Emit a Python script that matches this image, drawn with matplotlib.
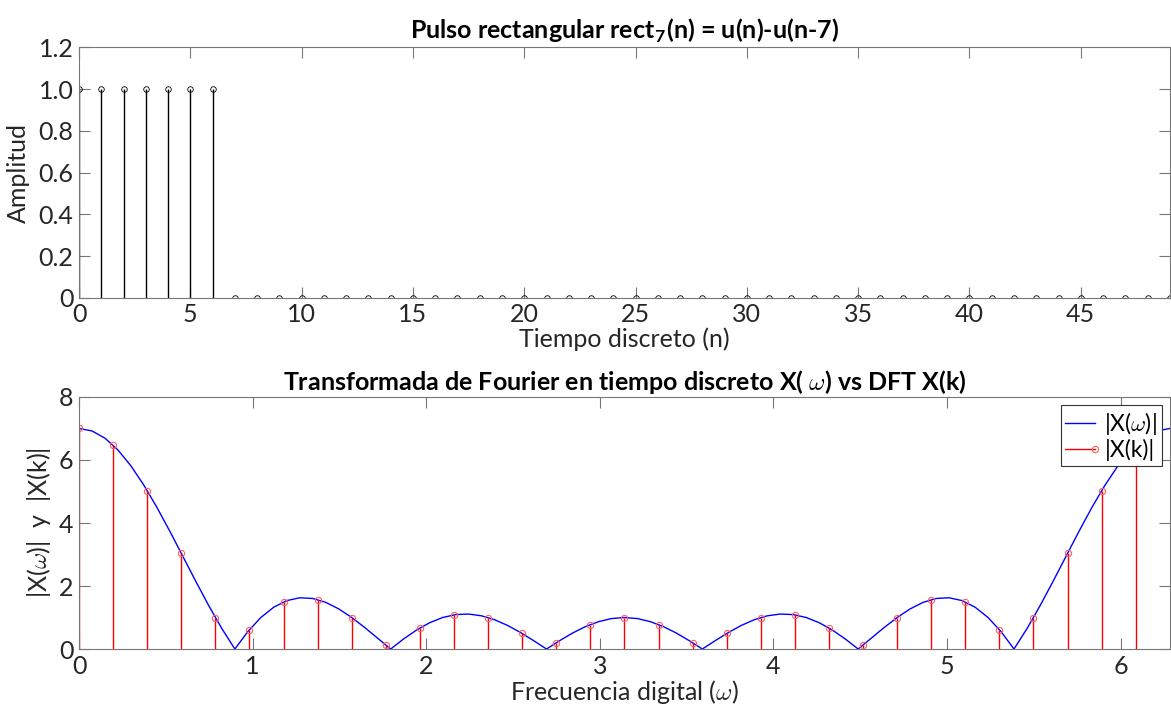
import matplotlib

matplotlib.use("Agg")
import matplotlib.pyplot as plt
import numpy as np
from matplotlib.legend_handler import HandlerBase
from matplotlib.lines import Line2D

# top panel: rect_7(n) for n = 0..49
n = np.arange(50)
amplitude = [1, 1, 1, 1, 1, 1, 1, 0, 0, 0,
             0, 0, 0, 0, 0, 0, 0, 0, 0, 0,
             0, 0, 0, 0, 0, 0, 0, 0, 0, 0,
             0, 0, 0, 0, 0, 0, 0, 0, 0, 0,
             0, 0, 0, 0, 0, 0, 0, 0, 0, 0]

# bottom panel: |X(w)| read on a grid of 85 frequencies over [0, 2*pi]
w = np.linspace(0, 2 * np.pi, 85)
dtft_mag = [7.000, 6.922, 6.691, 6.316, 5.811, 5.196, 4.494, 3.732, 2.938, 2.141,
            1.369, 0.647, 0.000, 0.554, 1.000, 1.329, 1.537, 1.627, 1.604, 1.481,
            1.273, 1.000, 0.682, 0.341, 0.000, 0.322, 0.605, 0.835, 1.000, 1.093,
            1.110, 1.054, 0.930, 0.749, 0.523, 0.268, 0.000, 0.263, 0.506, 0.712,
            0.868, 0.967, 1.000, 0.967, 0.868, 0.712, 0.506, 0.263, 0.000, 0.268,
            0.523, 0.749, 0.930, 1.054, 1.110, 1.093, 1.000, 0.835, 0.605, 0.322,
            0.000, 0.341, 0.682, 1.000, 1.273, 1.481, 1.604, 1.627, 1.537, 1.329,
            1.000, 0.554, 0.000, 0.647, 1.369, 2.141, 2.938, 3.732, 4.494, 5.196,
            5.811, 6.316, 6.691, 6.922, 7.000]

# DFT with 32 bins
wk = np.arange(32) * 2 * np.pi / 32
dft_mag = [7.000, 6.472, 5.027, 3.038, 1.000, 0.616, 1.497, 1.569,
           1.000, 0.127, 0.668, 1.085, 1.000, 0.493, 0.199, 0.777,
           1.000, 0.777, 0.199, 0.493, 1.000, 1.085, 0.668, 0.127,
           1.000, 1.569, 1.497, 0.616, 1.000, 3.038, 5.027, 6.472]

top_yticks = [0, 0.2, 0.4, 0.6, 0.8, 1.0, 1.2]
top_ylabels = ["0", "0.2", "0.4", "0.6", "0.8", "1.0", "1.2"]

plt.rcParams["font.family"] = ["Lato", "DejaVu Sans"]
plt.rcParams["mathtext.fontset"] = "custom"
plt.rcParams["mathtext.rm"] = "Lato"
plt.rcParams["mathtext.it"] = "cmmi10"
plt.rcParams["mathtext.bf"] = "Lato:bold"
FS = 18
TXT = "#262626"
SPINE = "#777777"


class StemKey(HandlerBase):
    """legend key: red line with an open circle at its right end"""

    def create_artists(self, legend, orig, xd, yd, width, height, fontsize, trans):
        y = height / 2 - yd
        ln = Line2D([-xd, width - xd], [y, y], color="red", lw=1.0)
        mk = Line2D([width - xd], [y], marker="o", ms=4.5, mfc="none",
                    mec="#ff6060", mew=0.8, ls="none")
        ln.set_transform(trans)
        mk.set_transform(trans)
        return [ln, mk]


def style(ax):
    for sp in ax.spines.values():
        sp.set_color(SPINE)
        sp.set_linewidth(0.8)
    ax.tick_params(direction="in", length=8, width=0.8, color=SPINE,
                   labelcolor=TXT, labelsize=FS, top=True, right=True, pad=4)


fig = plt.figure(figsize=(11.71, 7.06), dpi=100)

ax1 = fig.add_axes([0.0675, 0.578, 0.9315, 0.355])
ml, sl, bl = ax1.stem(n, amplitude, linefmt="k-", markerfmt="ko", basefmt=" ")
plt.setp(sl, linewidth=1.0, color="black")
plt.setp(ml, markersize=4, markerfacecolor="none", markeredgecolor="black",
         markeredgewidth=0.6)
ax1.set_xlim(0, 49)
ax1.set_ylim(0, 1.2)
ax1.set_xticks(np.arange(0, 50, 5))
ax1.set_yticks(top_yticks)
ax1.set_yticklabels(top_ylabels)
style(ax1)
ax1.set_title(r"Pulso rectangular rect$_\mathbf{7}$(n) = u(n)-u(n-7)",
              fontsize=FS, fontweight="bold", color="black", pad=6)
ax1.set_xlabel("Tiempo discreto (n)", fontsize=FS, color=TXT, labelpad=1)
ax1.set_ylabel("Amplitud", fontsize=FS, color=TXT, labelpad=6)

ax2 = fig.add_axes([0.0675, 0.0807, 0.9315, 0.357])
line, = ax2.plot(w, dtft_mag, color="blue", lw=1.0, label=r"|X($\omega$)|")
ml2, sl2, bl2 = ax2.stem(wk, dft_mag, linefmt="r-", markerfmt="ro", basefmt=" ")
plt.setp(sl2, linewidth=1.0, color="red")
plt.setp(ml2, markersize=4.5, markerfacecolor="none", markeredgecolor="#ff6060",
         markeredgewidth=0.8)
ax2.set_xlim(0, 2 * np.pi)
ax2.set_ylim(0, 8)
ax2.set_xticks(np.arange(0, 7))
ax2.set_yticks(np.arange(0, 9, 2))
style(ax2)
ax2.set_title(r"Transformada de Fourier en tiempo discreto X( $\omega$) vs DFT X(k)",
              fontsize=FS, fontweight="bold", color="black", pad=5)
ax2.set_xlabel(r"Frecuencia digital ($\omega$)", fontsize=FS, color=TXT, labelpad=0)
ax2.set_ylabel(r"|X($\omega$)|  y  |X(k)|", fontsize=FS, color=TXT, labelpad=4)

stem_proxy = Line2D([], [], color="red")
leg = ax2.legend([line, stem_proxy], [r"|X($\omega$)|", "|X(k)|"],
                 handler_map={stem_proxy: StemKey()}, loc="upper right",
                 fontsize=16.5, fancybox=False, framealpha=1, edgecolor="#333333",
                 handlelength=1.3, handletextpad=0.4, borderaxespad=0.35,
                 borderpad=0.2, labelspacing=0.1)
leg.get_frame().set_linewidth(0.8)

fig.savefig("out.png", dpi=100)
